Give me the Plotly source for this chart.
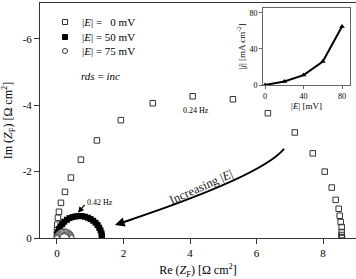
import plotly.graph_objects as go

# 0 mV (open squares)
re_0 = [0.00, 0.00, 0.00, 0.01, 0.03, 0.06, 0.12, 0.24, 0.42, 0.72, 1.20, 1.92, 2.88, 4.08,
        5.29, 6.34, 7.15, 7.69, 8.05, 8.26, 8.38, 8.47, 8.50, 8.53, 8.56, 8.56, 8.56, 8.56, 8.57]
im_0 = [0.00, -0.10, -0.24, -0.40, -0.61, -0.79, -1.06, -1.39, -1.82, -2.36, -2.94, -3.55, -4.06, -4.27,
        -4.18, -3.76, -3.18, -2.55, -2.00, -1.52, -1.15, -0.88, -0.67, -0.48, -0.33, -0.18, -0.09, -0.03, 0.00]

# 50 mV (filled squares)
re_50 = [0.00, 0.01, 0.03, 0.06, 0.10, 0.16, 0.22, 0.30, 0.38, 0.47, 0.56, 0.65, 0.75, 0.84,
         0.93, 1.01, 1.09, 1.16, 1.22, 1.27, 1.31, 1.34, 1.35, 1.35, 1.35]
im_50 = [0.00, -0.09, -0.18, -0.27, -0.35, -0.42, -0.49, -0.55, -0.60, -0.63, -0.65, -0.66, -0.66, -0.64,
         -0.61, -0.57, -0.52, -0.46, -0.39, -0.31, -0.23, -0.14, -0.07, -0.03, 0.00]

# 75 mV (open circles)
re_75 = [0.003, 0.013, 0.029, 0.051, 0.079, 0.11, 0.145, 0.182, 0.22, 0.258, 0.295, 0.33,
         0.361, 0.389, 0.411, 0.427, 0.437, 0.44, 0.00]
im_75 = [-0.035, -0.07, -0.10, -0.13, -0.15, -0.17, -0.19, -0.20, -0.20, -0.20, -0.19, -0.17,
         -0.15, -0.13, -0.10, -0.07, -0.035, 0.00, 0.00]

# inset: |j| vs |E|
inset_E = [0, 20, 40, 60, 80]
inset_j = [0, 4, 11, 26, 65]

main_xticks = [0, 2, 4, 6, 8]
main_yticks = [0, -2, -4, -6]
main_yticklabels = ["0", "-2", "-4", "-6"]
inset_ticks = [0, 40, 80]

legend_labels = ["|<i>E</i>| =\u00a0\u00a0\u00a00 mV", "|<i>E</i>| = 50 mV", "|<i>E</i>| = 75 mV"]

FONT = "Liberation Serif"
W, H = 356, 279
L, R, T, B = 40, 0, 3, 41
PW, PH = W - L - R, H - T - B


def px(x):
    return (x - L) / PW


def py(y):
    return (H - B - y) / PH


fig = go.Figure()
fig.add_trace(go.Scatter(x=re_0, y=im_0, mode="markers", showlegend=False,
                         marker=dict(symbol="square-open", size=5.5, color="#333", line=dict(width=1))))
fig.add_trace(go.Scatter(x=re_50, y=im_50, mode="markers", showlegend=False,
                         marker=dict(symbol="square", size=6, color="black")))
fig.add_trace(go.Scatter(x=re_75, y=im_75, mode="markers", showlegend=False,
                         marker=dict(symbol="circle", size=5, color="white",
                                     line=dict(width=1, color="#555"))))
fig.add_trace(go.Scatter(x=inset_E, y=inset_j, mode="lines+markers", showlegend=False,
                         xaxis="x2", yaxis="y2",
                         line=dict(color="black", width=2),
                         marker=dict(symbol="triangle-up", size=5, color="black")))

fig.update_layout(
    width=W, height=H,
    margin=dict(l=L, r=R, t=T, b=B),
    paper_bgcolor="white", plot_bgcolor="white",
    font=dict(family=FONT, size=11, color="black"),
    showlegend=False,
    xaxis=dict(range=[-0.51, 8.99], tickvals=main_xticks, showgrid=False, zeroline=False,
               showline=True, linecolor="#333", linewidth=1, mirror=True,
               ticks="outside", ticklen=5, tickcolor="#333",
               tickfont=dict(family=FONT, size=11, color="black"),
               title=dict(text="Re (<i>Z</i><sub>F</sub>) [Ω cm<sup>2</sup>]",
                          font=dict(family=FONT, size=12, color="black"), standoff=10)),
    yaxis=dict(range=[0, -7.08], tickvals=main_yticks, ticktext=main_yticklabels,
               showgrid=False, zeroline=False,
               showline=True, linecolor="#333", linewidth=1,
               ticks="outside", ticklen=5, tickcolor="#333",
               tickfont=dict(family=FONT, size=11, color="black"),
               title=dict(text="Im (<i>Z</i><sub>F</sub>) [Ω cm<sup>2</sup>]",
                          font=dict(family=FONT, size=12, color="black"), standoff=8)),
    xaxis2=dict(domain=[0.706, 0.981], anchor="y2", range=[-2.1, 88.3], tickvals=inset_ticks,
                showgrid=False, zeroline=False, showline=True, linecolor="#666", mirror=True,
                ticks="outside", ticklen=3, tickcolor="#666",
                tickfont=dict(family=FONT, size=8, color="black"),
                title=dict(text="|<i>E</i>| [mV]", font=dict(family=FONT, size=9, color="black"),
                           standoff=2)),
    yaxis2=dict(domain=[0.651, 0.979], anchor="x2", range=[0, 85.6], tickvals=inset_ticks,
                showgrid=False, zeroline=False, showline=True, linecolor="#666", mirror=True,
                ticks="outside", ticklen=3, tickcolor="#666",
                tickfont=dict(family=FONT, size=8, color="black"),
                title=dict(text="|<i>j</i>| [mA cm<sup>-2</sup>]",
                           font=dict(family=FONT, size=9, color="black"), standoff=2)),
)

# manual legend (glyphs + labels)
rows = [22, 37, 51]
sx = 65
hx, hy = 2.5 / PW, 2.5 / PH
glyphs = [
    dict(type="rect", fillcolor="white", line=dict(color="#333", width=1)),
    dict(type="rect", fillcolor="black", line=dict(color="black", width=1)),
    dict(type="circle", fillcolor="white", line=dict(color="#333", width=1)),
]
for g, ry, lab in zip(glyphs, rows, legend_labels):
    cx, cy = px(sx), py(ry)
    fig.add_shape(xref="paper", yref="paper", x0=cx - hx, x1=cx + hx, y0=cy - hy, y1=cy + hy, **g)
    fig.add_annotation(xref="paper", yref="paper", x=px(80), y=cy, xanchor="left", yanchor="middle",
                       text=lab, showarrow=False, font=dict(family=FONT, size=11, color="black"))

# curved arrow "Increasing |E|"
fig.add_shape(type="path", xref="x", yref="y",
              path="M 1.80,-0.41 Q 6.126,-1.842 6.827,-2.683",
              line=dict(color="black", width=1.8))
fig.add_annotation(x=1.744, y=-0.392, ax=2.35, ay=-0.59, xref="x", yref="y",
                   axref="x", ayref="y", text="", showarrow=True,
                   arrowhead=2, arrowsize=1.2, arrowwidth=1.6, arrowcolor="black")
fig.add_annotation(x=4.33, y=-1.55, xref="x", yref="y", text="Increasing |<i>E</i>|",
                   showarrow=False, textangle=-24, font=dict(family=FONT, size=12.5, color="#222"))

fig.add_annotation(x=1.32, y=-4.88, xref="x", yref="y", text="<i>rds</i> = <i>inc</i>",
                   showarrow=False, font=dict(family=FONT, size=11, color="black"))
fig.add_annotation(x=4.18, y=-3.85, xref="x", yref="y", text="0.24 Hz",
                   showarrow=False, font=dict(family=FONT, size=8, color="black"))
fig.add_annotation(x=1.29, y=-1.06, xref="x", yref="y", text="0.42 Hz",
                   showarrow=False, font=dict(family=FONT, size=8, color="black"))
fig.add_annotation(x=0.63, y=-0.76, ax=0.87, ay=-1.04, xref="x", yref="y",
                   axref="x", ayref="y", text="", showarrow=True,
                   arrowhead=2, arrowsize=1, arrowwidth=1.2, arrowcolor="black")

fig.write_html("out.html")
